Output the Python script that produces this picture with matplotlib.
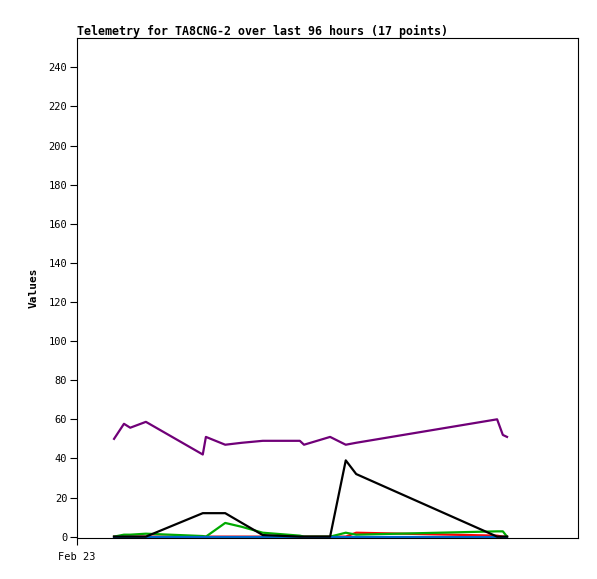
import matplotlib
matplotlib.use("Agg")
import matplotlib.pyplot as plt

# hours since Feb 23 00:00 (17 telemetry points)
hours = [7.1, 9.0, 10.2, 13.2, 24.1, 24.7, 28.4, 31.6, 35.6, 42.7, 43.5,
         48.5, 51.5, 53.5, 80.5, 81.6, 82.4]

red = [0, 0, 0, 0, 0, 0, 0, 0, 0, 0, 0, 0, 0, 2, 0.5, 0, 0]
green = [0, 1, 1, 1.5, 0.3, 0, 7, 5, 2, 0.5, 0, 0, 2, 1, 2.7, 2.7, 0]
blue = [0, 0, 0, 0, 0, 0, 0, 0, 0, 0, 0, 0, 0, 0, 0, 0, 0]
black = [0, 0, 0, 0, 12, 12, 12, 7, 0.8, 0, 0, 0, 39, 32, 0, 0, 0]
purple = [50, 57.7, 55.7, 58.7, 42, 51, 47, 48, 49, 49, 47, 51, 47, 48, 60, 52, 51]

yticks = list(range(0, 241, 20))
xtick_labels = ["Feb 23"]

mono = "DejaVu Sans Mono"

fig = plt.figure(figsize=(5.97, 5.79), dpi=100)
ax = fig.add_axes([77/597, 41/579, 501/597, 500/579])

lw = 1.6
ax.plot(hours, red, color="#ff0000", lw=lw)
ax.plot(hours, green, color="#00aa00", lw=lw)
ax.plot(hours, blue, color="#0066cc", lw=lw)
ax.plot(hours, black, color="#000000", lw=lw)
ax.plot(hours, purple, color="#700078", lw=lw)

ax.set_xlim(0, 96)
ax.set_ylim(-0.7, 255)
ax.set_yticks(yticks)
ax.set_yticklabels([str(v) for v in yticks], fontfamily=mono, fontsize=7.5)
ax.set_xticks([0])
ax.set_xticklabels(xtick_labels, fontfamily=mono, fontsize=7.5)
ax.tick_params(direction="out", length=5, width=0.8, pad=2)
ax.tick_params(axis="x", pad=5)

for s in ax.spines.values():
    s.set_linewidth(0.8)

ax.set_ylabel("Values", fontfamily=mono, fontweight="bold", fontsize=8, labelpad=7)
fig.text(77/597, 1 - 31/579, "Telemetry for TA8CNG-2 over last 96 hours (17 points)",
         fontfamily=mono, fontweight="bold", fontsize=8.4, ha="left", va="center")

fig.savefig("out.png", dpi=100)
